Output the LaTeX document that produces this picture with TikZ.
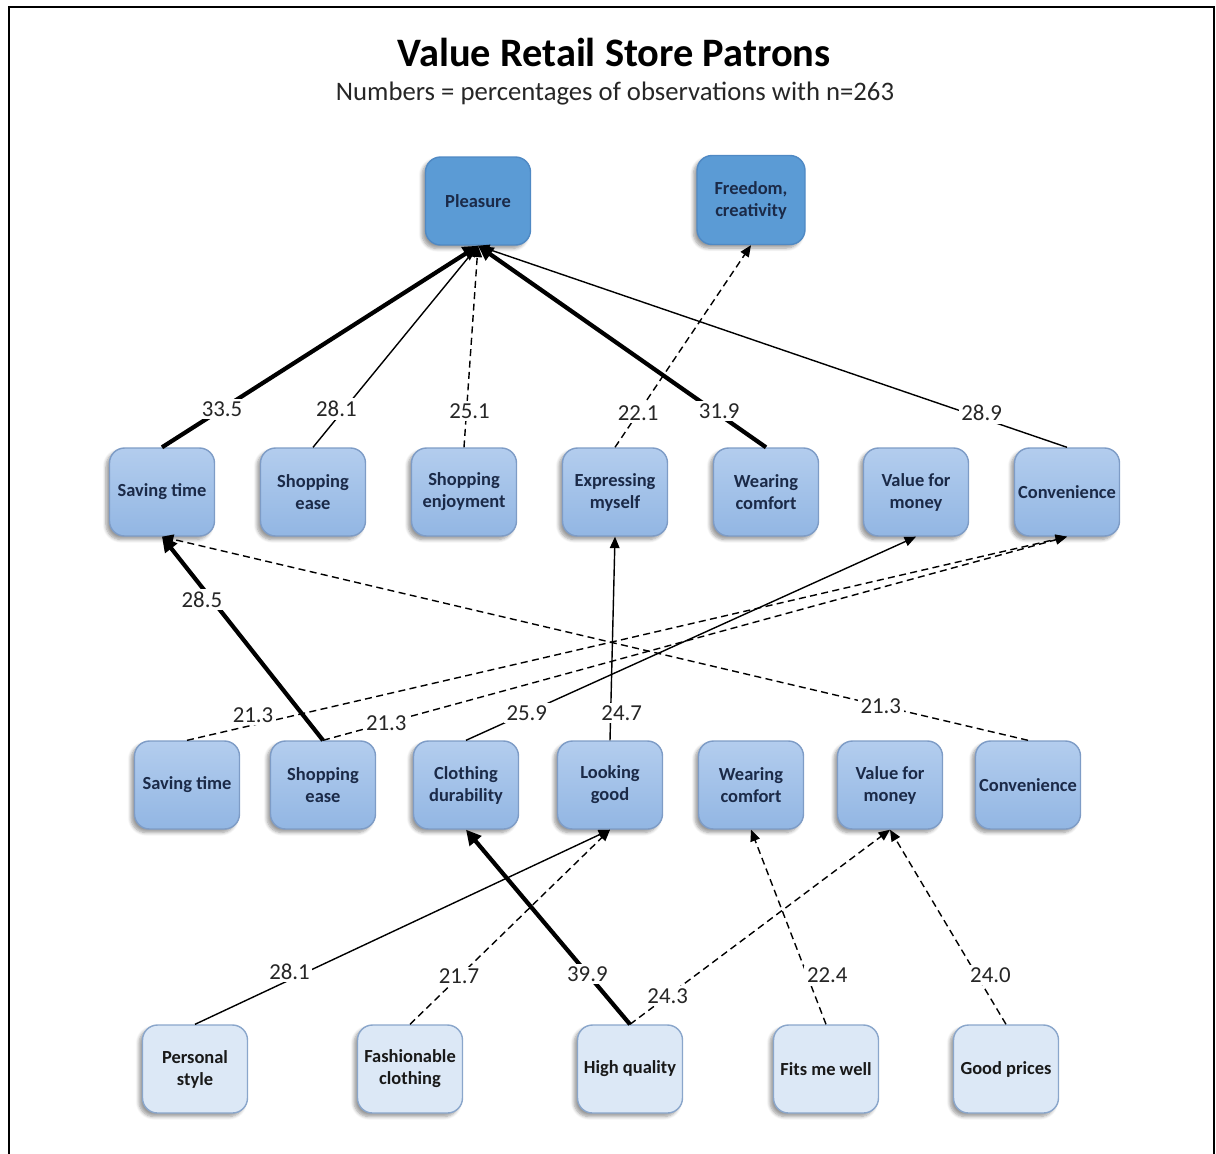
\documentclass[tikz,border=0pt]{standalone}
\usepackage{fontspec}
\setmainfont{Carlito}
\usetikzlibrary{arrows.meta,shadows.blur}

\definecolor{topfill}{HTML}{5B9BD5}
\definecolor{topdraw}{HTML}{4F89C4}
\definecolor{midtop}{HTML}{B3CDEE}
\definecolor{midbot}{HTML}{92B6E3}
\definecolor{middraw}{HTML}{7E9CC6}
\definecolor{lowfill}{HTML}{DCE8F6}
\definecolor{lowdraw}{HTML}{8AA6CB}
\definecolor{navy}{HTML}{1B2A48}

\begin{document}
\begin{tikzpicture}[x=0.02cm, y=-0.02cm,
  box/.style={rounded corners=0.3cm, minimum width=2.1cm, minimum height=1.76cm,
    align=center, inner sep=2pt, line width=0.8pt,
    font=\fontsize{10.5}{12.5}\selectfont\bfseries,
    blur shadow={shadow xshift=-2pt, shadow yshift=-2pt, shadow blur steps=6, shadow opacity=40}},
  goal/.style={box, fill=topfill, draw=topdraw, text=navy},
  conseq/.style={box, top color=midtop, bottom color=midbot, draw=middraw, text=navy},
  attr/.style={box, fill=lowfill, draw=lowdraw, text=black!90},
  strong/.style={line width=2.4pt, -{Triangle[length=8.5pt,width=8.5pt]}},
  plain/.style={line width=0.8pt, -{Triangle[length=6.5pt,width=5.5pt]}},
  weak/.style={plain, dash pattern=on 4pt off 2.5pt},
  num/.style={fill=white, inner sep=1.5pt, text=black!85,
    font=\fontsize{13}{15}\selectfont}]

\useasboundingbox (0,0) rectangle (1216,1153);

% frame
\draw[line width=1.6pt] (9,1160) -- (9,7) -- (1214,7) -- (1214,1160);

% headings
\node[font=\fontsize{23}{27}\selectfont\bfseries] (title) at (614,52) {Value Retail Store Patrons};
\node[font=\fontsize{15.2}{18}\selectfont, text=black!85] (sub) at (615,94) {Numbers = percentages of observations with n=263};

% values
\node[goal] (p) at (478,201) {Pleasure};
\node[goal, minimum width=2.16cm, minimum height=1.78cm] (fc) at (751,200) {Freedom,\\creativity};

% psychosocial consequences
\node[conseq] (a1) at (162,492) {Saving time};
\node[conseq] (a2) at (313,492) {Shopping\\ease};
\node[conseq] (a3) at (464,492) {Shopping\\enjoyment};
\node[conseq] (a4) at (615,492) {Expressing\\myself};
\node[conseq] (a5) at (766,492) {Wearing\\comfort};
\node[conseq] (a6) at (916,492) {Value for\\money};
\node[conseq] (a7) at (1067,492) {Convenience};

% functional consequences
\node[conseq] (b1) at (187,785) {Saving time};
\node[conseq] (b2) at (323,785) {Shopping\\ease};
\node[conseq] (b3) at (466,785) {Clothing\\durability};
\node[conseq] (b4) at (610,785) {Looking\\good};
\node[conseq] (b5) at (751,785) {Wearing\\comfort};
\node[conseq] (b6) at (890,785) {Value for\\money};
\node[conseq] (b7) at (1028,785) {Convenience};

% attributes
\node[attr] (c1) at (195,1069) {Personal\\style};
\node[attr] (c2) at (410,1069) {Fashionable\\clothing};
\node[attr] (c3) at (630,1069) {High quality};
\node[attr] (c4) at (826,1069) {Fits me well};
\node[attr] (c5) at (1006,1069) {Good prices};

% links to values
\draw[strong] (a1.north) -- (p.south) node[num, pos=0.19] {33.5};
\draw[plain]  (a2.north) -- (p.south) node[num, pos=0.19, xshift=-0.16cm] {28.1};
\draw[weak]   (a3.north) -- (p.south) node[num, pos=0.18, xshift=0.06cm] {25.1};
\draw[strong] (a5.north) -- (p.south) node[num, pos=0.18, xshift=0.1cm] {31.9};
\draw[plain]  (a7.north) -- (p.south) node[num, pos=0.145, yshift=0.1cm] {28.9};
\draw[weak]   (a4.north) -- (fc.south) node[num, pos=0.17] {22.1};

% links between consequences
\draw[strong] (b2.north) -- (a1.south) node[num, pos=0.69, xshift=-0.2cm] {28.5};
\draw[weak]   (b7.north) -- (a1.south) node[num, pos=0.17] {21.3};
\draw[weak]   (b1.north) -- (a7.south) node[num, pos=0.075, yshift=0.2cm] {21.3};
\draw[weak]   (b2.north) -- (a7.south) node[num, pos=0.085] {21.3};
\draw[plain]  (b3.north) -- (a6.south) node[num, pos=0.135] {25.9};
\draw[plain]  (b4.north) -- (a4.south) node[num, pos=0.135, xshift=0.22cm] {24.7};

% links from attributes
\draw[plain]  (c1.north) -- (b4.south) node[num, pos=0.27, xshift=-0.35cm] {28.1};
\draw[weak]   (c2.north) -- (b4.south) node[num, pos=0.245] {21.7};
\draw[strong] (c3.north) -- (b3.south) node[num, pos=0.26] {39.9};
\draw[weak]   (c3.north) -- (b6.south) node[num, pos=0.145] {24.3};
\draw[weak]   (c4.north) -- (b5.south) node[num, pos=0.25, xshift=0.4cm] {22.4};
\draw[weak]   (c5.north) -- (b6.south) node[num, pos=0.255, xshift=0.28cm] {24.0};

\end{tikzpicture}
\end{document}
